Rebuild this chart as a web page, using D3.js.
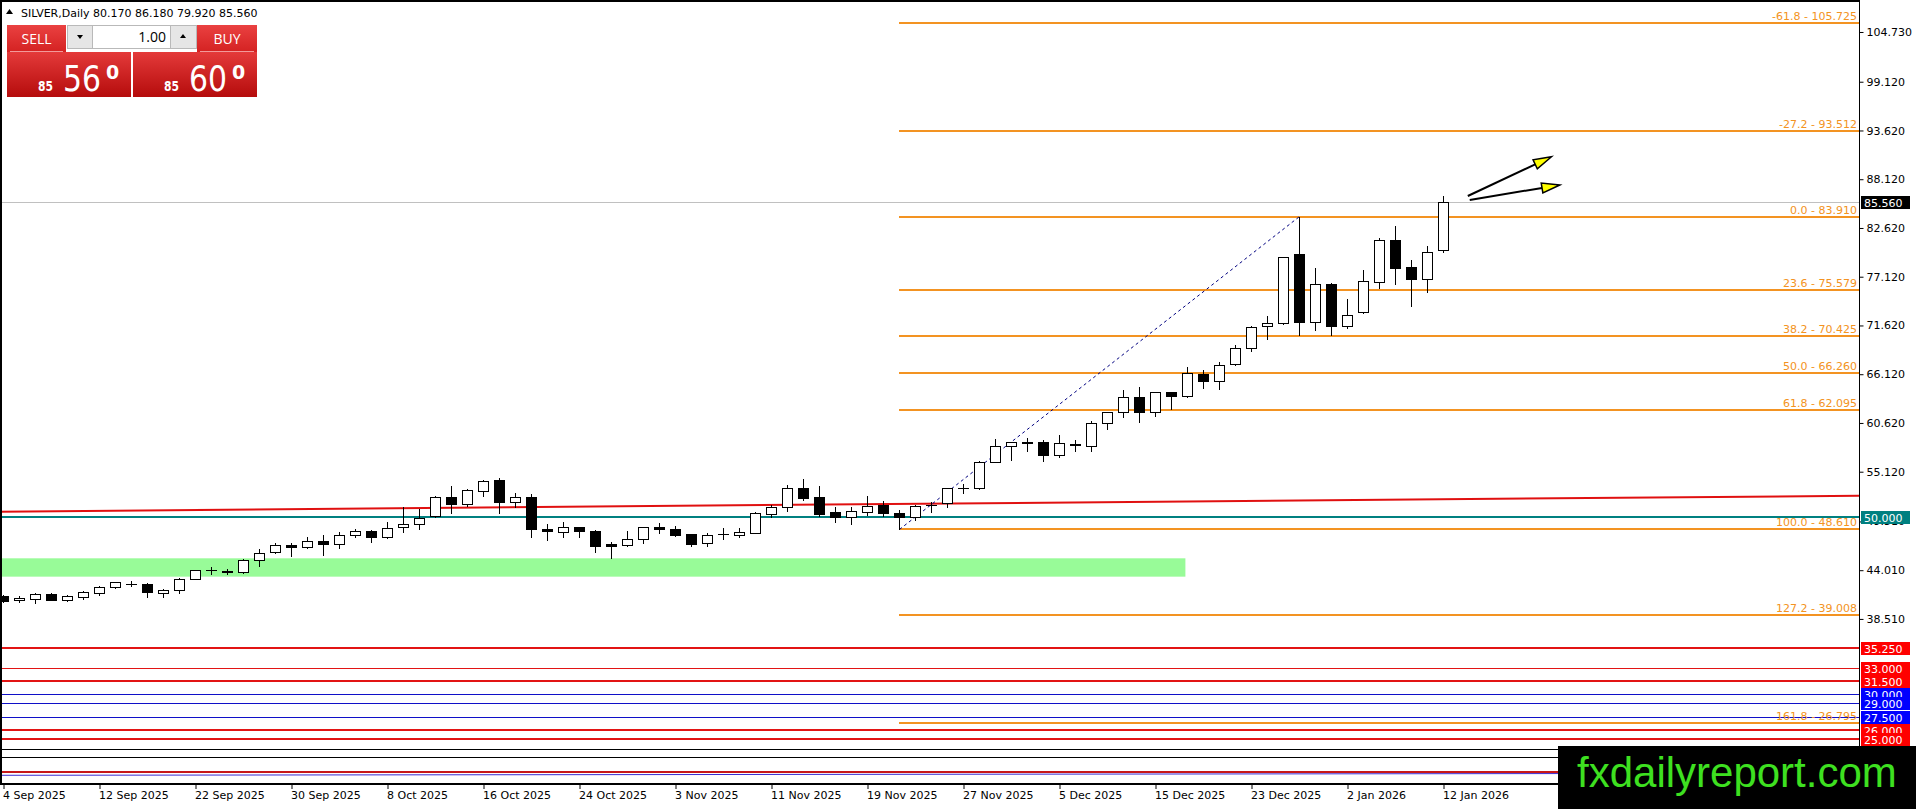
<!DOCTYPE html>
<html>
<head>
<meta charset="utf-8">
<script src="https://cdn.jsdelivr.net/npm/d3@7/dist/d3.min.js"></script>
<style>
	html, body { margin: 0; padding: 0; background: #fff; overflow: hidden; }
	svg { display: block; }
	text { font-family: "DejaVu Sans", Tahoma, sans-serif; font-size: 11px; }
</style>
</head>
<body>
<svg id="chart" width="1916" height="809"></svg>
<script>
// ---- data ----
const symbol = 'SILVER,Daily'
const dateLabels = ['4 Sep 2025', '12 Sep 2025', '22 Sep 2025', '30 Sep 2025', '8 Oct 2025', '16 Oct 2025',
	'24 Oct 2025', '3 Nov 2025', '11 Nov 2025', '19 Nov 2025', '27 Nov 2025', '5 Dec 2025',
	'15 Dec 2025', '23 Dec 2025', '2 Jan 2026', '12 Jan 2026']

const opens = [41.14, 40.62, 40.80, 41.29, 40.69, 41.03, 41.41, 42.08, 42.50, 42.42,
	41.48, 41.74, 43.02, 44.00, 43.96, 43.77, 45.13, 46.03, 46.86, 46.63,
	47.35, 46.93, 47.95, 48.40, 47.72, 48.85, 49.19, 50.13, 52.24, 51.48,
	52.99, 54.19, 51.75, 52.27, 48.66, 48.36, 48.89, 48.44, 46.97, 46.89,
	47.50, 48.89, 48.62, 48.10, 47.05, 48.06, 47.95, 48.25, 50.39, 51.11,
	53.25, 52.27, 50.54, 50.05, 50.62, 51.33, 50.51, 50.05, 51.33, 51.55,
	53.24, 53.32, 56.25, 57.98, 58.40, 58.43, 57.04, 58.13, 58.06, 60.58,
	61.82, 63.51, 61.82, 64.07, 63.70, 66.14, 65.39, 67.23, 69.04, 71.56,
	71.86, 79.68, 72.05, 76.26, 71.60, 73.18, 76.56, 81.26, 78.18, 76.90,
	80.17]
const highs = [41.22, 41.10, 41.48, 41.41, 41.18, 41.71, 42.27, 42.72, 42.80, 42.53,
	41.89, 43.10, 44.04, 44.41, 44.19, 45.24, 46.44, 47.12, 47.12, 47.76,
	47.95, 48.33, 48.63, 48.55, 49.45, 51.11, 50.88, 52.39, 53.51, 53.18,
	54.19, 54.38, 52.72, 52.61, 49.23, 49.45, 48.93, 48.55, 47.20, 48.44,
	48.88, 49.30, 49.00, 48.14, 48.17, 48.74, 48.78, 50.62, 51.37, 53.63,
	54.30, 53.51, 51.18, 51.11, 52.39, 51.82, 50.81, 51.37, 51.75, 53.30,
	53.69, 56.37, 58.81, 58.51, 58.92, 58.70, 59.26, 58.70, 60.84, 61.89,
	64.34, 64.64, 64.10, 64.11, 66.89, 66.59, 67.53, 69.41, 71.52, 72.69,
	79.35, 83.91, 78.10, 76.37, 74.64, 77.88, 81.45, 82.84, 79.00, 80.58,
	86.18]
const lows = [40.46, 40.46, 40.35, 40.65, 40.58, 40.80, 41.26, 41.97, 42.20, 41.03,
	41.03, 41.48, 42.98, 43.55, 43.55, 43.66, 44.53, 45.92, 45.65, 46.48,
	45.77, 46.56, 47.80, 47.23, 47.61, 48.36, 48.66, 50.05, 50.43, 51.30,
	52.42, 50.51, 51.11, 47.80, 47.42, 47.80, 47.72, 46.03, 45.43, 46.74,
	47.12, 48.25, 47.91, 46.74, 46.74, 47.57, 47.80, 48.22, 50.05, 50.73,
	51.93, 50.13, 49.49, 49.23, 50.24, 50.17, 48.61, 49.68, 50.62, 51.18,
	52.68, 53.21, 56.18, 56.44, 57.46, 56.37, 56.82, 57.46, 57.46, 59.98,
	61.33, 60.76, 61.40, 62.23, 63.59, 64.60, 64.41, 67.16, 68.78, 70.13,
	71.80, 70.54, 71.11, 70.54, 71.30, 72.99, 75.88, 76.30, 73.81, 75.43,
	79.92]
const closes = [40.58, 40.92, 41.29, 40.69, 41.10, 41.52, 42.08, 42.65, 42.42, 41.59,
	41.74, 42.98, 44.00, 44.02, 43.77, 45.13, 45.92, 46.82, 46.60, 47.31,
	46.97, 47.95, 48.40, 47.72, 48.81, 49.23, 49.94, 52.24, 51.45, 53.03,
	54.12, 51.75, 52.23, 48.62, 48.40, 48.93, 48.47, 46.74, 46.78, 47.50,
	48.85, 48.62, 48.02, 47.01, 47.95, 48.10, 48.29, 50.43, 51.11, 53.25,
	52.20, 50.35, 50.05, 50.69, 51.29, 50.51, 50.05, 51.29, 51.41, 53.24,
	53.28, 56.25, 58.02, 58.43, 58.43, 57.04, 58.32, 58.21, 60.58, 61.82,
	63.51, 61.89, 64.07, 63.70, 66.22, 65.39, 67.12, 69.04, 71.41, 71.86,
	79.30, 72.05, 76.26, 71.60, 72.76, 76.63, 81.26, 78.14, 76.90, 79.91,
	85.56]

const priceTicks = [104.73, 99.12, 93.62, 88.12, 82.62, 77.12, 71.62, 66.12, 60.62, 55.12, 49.51, 44.01, 38.51]

// fibonacci tool: anchored on bar 56 low and bar 81 high
const fibBars = [56, 81]
const fibPrices = [48.61, 83.91]
const fibRatios = [-61.8, -27.2, 0, 23.6, 38.2, 50, 61.8, 100, 127.2, 161.8]

// horizontal levels
const pivotLevel = 50.0
const redLevels = [35.25, 31.5, 26.0, 25.0]
const redThinLevels = [33.0]
const blueLevels = [30.0, 29.0, 27.5]
const blackLevels = [23.81, 22.91]
const lowRedLevel = 21.28

// trendlines as [bar, price] pairs
const redTrend = [[0, 50.62], [90, 52.01]]
const blueTrend = [[0, 20.87], [96, 21.06]]

// green zone [fromBar, toBar, lowPrice, highPrice]
const zone = [-3, 73.9, 43.28, 45.35]

// arrows [fromBar, fromPrice, toBar, toPrice]
const arrows = [[91.55, 86.23, 96.78, 90.66], [91.67, 85.78, 97.3, 87.47]]

const bidPrice = 85.560
const askPrice = 85.600
const lotSize = '1.00'

// ---- layout ----
const W = 1916, H = 809
const plotRight = 1859, plotBottom = 783

const svg = d3.select('#chart')

const x = d3.scaleLinear().domain([0, 90]).range([3, 1443])
const y = d3.scaleLinear().domain([20, 108.34]).range([plotBottom, 0])

const cx = i => Math.round(x(i))
const crisp = v => Math.round(v) + 0.5

svg.append('defs').append('clipPath').attr('id', 'plotClip')
	.append('rect').attr('x', 0).attr('y', 0).attr('width', plotRight).attr('height', plotBottom)

const plot = svg.append('g').attr('clip-path', 'url(#plotClip)')

// green zone
plot.append('rect')
	.attr('x', x(zone[0])).attr('width', x(zone[1]) - x(zone[0]))
	.attr('y', y(zone[3])).attr('height', y(zone[2]) - y(zone[3]))
	.attr('fill', '#98fb98')

function hline(price, color, width, x0 = 0) {
	const yy = width % 2 ? crisp(y(price)) : Math.round(y(price))
	plot.append('line')
		.attr('x1', x0).attr('x2', plotRight)
		.attr('y1', yy).attr('y2', yy)
		.attr('stroke', color).attr('stroke-width', width)
}

function trend(pts, color, width) {
	const [[b0, p0], [b1, p1]] = pts
	const slope = (p1 - p0) / (b1 - b0)
	const bL = x.invert(0), bR = x.invert(plotRight)
	plot.append('line')
		.attr('x1', 0).attr('y1', y(p0 + slope * (bL - b0)))
		.attr('x2', plotRight).attr('y2', y(p0 + slope * (bR - b0)))
		.attr('stroke', color).attr('stroke-width', width)
}

// current price line
hline(closes[closes.length - 1], '#c0c0c0', 1)

// levels
redLevels.forEach(p => hline(p, '#e21414', 2))
redThinLevels.forEach(p => hline(p, '#e21414', 1))
blueLevels.forEach(p => hline(p, '#1010c8', 1))
blackLevels.forEach(p => hline(p, '#000', 1))
hline(lowRedLevel, '#c81818', 2)
hline(pivotLevel, '#008080', 2)

trend(redTrend, '#e01010', 2)
trend(blueTrend, '#3a2ad0', 1)

// fibonacci
const fibRange = fibPrices[1] - fibPrices[0]
const fibLevels = fibRatios.map(r => ({ r, price: fibPrices[1] - r / 100 * fibRange }))
const fibX0 = cx(fibBars[0])

fibLevels.forEach(d => {
	hline(d.price, '#f39322', 2, fibX0)
	plot.append('text')
		.attr('x', plotRight - 2)
		.attr('y', Math.round(y(d.price)) - 3)
		.attr('text-anchor', 'end')
		.attr('fill', '#f39322')
		.text(`${d.r.toFixed(1)} - ${d.price.toFixed(3)}`)
})

plot.append('line')
	.attr('x1', fibX0 + 0.5).attr('y1', y(fibPrices[0]))
	.attr('x2', cx(fibBars[1]) + 0.5).attr('y2', y(fibPrices[1]))
	.attr('stroke', '#000080').attr('stroke-width', 1)
	.attr('stroke-dasharray', '3,3')

// candles
const bars = opens.map((o, i) => ({ i, o, h: highs[i], l: lows[i], c: closes[i] }))

const candle = plot.append('g').selectAll('g')
	.data(bars)
	.enter()
	.append('g')

candle.append('line')
	.attr('x1', d => cx(d.i) + 0.5).attr('x2', d => cx(d.i) + 0.5)
	.attr('y1', d => Math.round(y(d.h))).attr('y2', d => Math.round(y(d.l)) + 1)
	.attr('stroke', '#000').attr('stroke-width', 1)

candle.each(function (d) {
	const g = d3.select(this)
	const top = Math.round(y(Math.max(d.o, d.c)))
	const bot = Math.round(y(Math.min(d.o, d.c)))
	if (bot - top < 1) {
		g.append('line')
			.attr('x1', cx(d.i) - 5).attr('x2', cx(d.i) + 6)
			.attr('y1', top + 0.5).attr('y2', top + 0.5)
			.attr('stroke', '#000')
	} else {
		g.append('rect')
			.attr('x', cx(d.i) - 4.5).attr('width', 10)
			.attr('y', top + 0.5).attr('height', bot - top)
			.attr('fill', d.c >= d.o ? '#fff' : '#000')
			.attr('stroke', '#000').attr('stroke-width', 1)
	}
})

// arrows
arrows.forEach(([b0, p0, b1, p1]) => {
	const x0 = x(b0), y0 = y(p0), x1 = x(b1), y1 = y(p1)
	const ang = Math.atan2(y1 - y0, x1 - x0)
	const len = 18, half = 5
	const bx = x1 - len * Math.cos(ang), by = y1 - len * Math.sin(ang)
	svg.append('line')
		.attr('x1', x0).attr('y1', y0).attr('x2', bx).attr('y2', by)
		.attr('stroke', '#000').attr('stroke-width', 2)
	const pts = [
		[x1, y1],
		[bx - half * Math.sin(ang), by + half * Math.cos(ang)],
		[bx + half * Math.sin(ang), by - half * Math.cos(ang)]
	]
	svg.append('path')
		.attr('d', d3.line()(pts) + 'Z')
		.attr('fill', '#ffff00').attr('stroke', '#000').attr('stroke-width', 1.5)
		.attr('stroke-linejoin', 'miter')
})

// chart frame
svg.append('line').attr('x1', 0).attr('x2', plotRight).attr('y1', 1).attr('y2', 1)
	.attr('stroke', '#000').attr('stroke-width', 2)
svg.append('line').attr('x1', 1).attr('x2', 1).attr('y1', 0).attr('y2', plotBottom)
	.attr('stroke', '#000').attr('stroke-width', 2)

// price axis
const yAxis = svg.append('g')
	.attr('transform', `translate(${plotRight + 0.5},0)`)
	.call(d3.axisRight(y).tickValues(priceTicks).tickSize(4).tickSizeOuter(0).tickFormat(d3.format('.3f')))
yAxis.select('.domain').attr('d', `M0,0V${plotBottom + 1}`)
yAxis.selectAll('text')
	.attr('x', 7)
	.attr('fill', '#000')
	.style('font-family', '"DejaVu Sans", Tahoma, sans-serif')
	.style('font-size', '11px')

// time axis
svg.append('line')
	.attr('x1', 0).attr('x2', plotRight + 1)
	.attr('y1', plotBottom + 1).attr('y2', plotBottom + 1)
	.attr('stroke', '#000').attr('stroke-width', 2)

const xAxis = svg.append('g')
	.attr('transform', `translate(0.5,${plotBottom + 1})`)
	.call(d3.axisBottom(x).tickValues(d3.range(0, 91, 6)).tickSize(5).tickSizeOuter(0)
		.tickFormat((d, i) => dateLabels[i]))
xAxis.select('.domain').remove()
xAxis.selectAll('text')
	.attr('text-anchor', 'start')
	.attr('x', -1)
	.attr('y', 7)
	.attr('fill', '#000')
	.style('font-family', '"DejaVu Sans", Tahoma, sans-serif')
	.style('font-size', '11px')

// price labels on the axis
const axisTags = [
	{ p: closes[closes.length - 1], bg: '#000' },
	{ p: pivotLevel, bg: '#008080' },
	...redLevels.concat(redThinLevels).map(p => ({ p, bg: '#ff0000' })),
	...blueLevels.map(p => ({ p, bg: '#0000ff' }))
].sort((a, b) => b.p - a.p)

const tags = svg.append('g')
axisTags.forEach(t => {
	const yy = Math.round(y(t.p))
	tags.append('rect')
		.attr('x', plotRight + 2).attr('y', yy - 6)
		.attr('width', 49).attr('height', 13)
		.attr('fill', t.bg)
	tags.append('text')
		.attr('x', plotRight + 5).attr('y', yy + 4.5)
		.attr('fill', '#fff')
		.text(t.p.toFixed(3))
})

// header
svg.append('path').attr('d', 'M6,14L9.5,9L13,14Z').attr('fill', '#000')
svg.append('text')
	.attr('x', 21).attr('y', 17)
	.attr('fill', '#000')
	.text(`${symbol}  ${[opens, highs, lows, closes].map(a => a[a.length - 1].toFixed(3)).join(' ')}`)

// one-click trading panel
const defs = svg.select('defs')
const grad = defs.append('linearGradient').attr('id', 'redGrad')
	.attr('x1', 0).attr('y1', 0).attr('x2', 0).attr('y2', 1)
grad.append('stop').attr('offset', 0).attr('stop-color', '#e43a3a')
grad.append('stop').attr('offset', 1).attr('stop-color', '#b50c0c')
const btnGrad = defs.append('linearGradient').attr('id', 'btnGrad')
	.attr('x1', 0).attr('y1', 0).attr('x2', 0).attr('y2', 1)
btnGrad.append('stop').attr('offset', 0).attr('stop-color', '#ea4141')
btnGrad.append('stop').attr('offset', 1).attr('stop-color', '#d42222')

const panel = svg.append('g')
const ui = '"Open Sans", "Noto Sans", sans-serif'

function priceBox(x0, w, value) {
	panel.append('rect').attr('x', x0).attr('y', 52).attr('width', w).attr('height', 45).attr('fill', 'url(#redGrad)')
	const s = value.toFixed(3)
	const [intPart, frac] = s.split('.')
	const g = panel.append('g').attr('fill', '#fff').style('font-family', ui)
	g.append('text').attr('x', x0 + 31).attr('y', 91)
		.attr('textLength', 15).attr('lengthAdjust', 'spacingAndGlyphs')
		.style('font-size', '14px').style('font-weight', 600).text(intPart)
	g.append('text').attr('x', x0 + 56).attr('y', 91)
		.attr('textLength', 38).attr('lengthAdjust', 'spacingAndGlyphs')
		.style('font-size', '36px').text(frac.slice(0, 2))
	g.append('text').attr('x', x0 + 99).attr('y', 79)
		.style('font-size', '19px').style('font-weight', 600).text(frac.slice(2))
}

function button(x0, w, label) {
	panel.append('rect').attr('x', x0).attr('y', 25).attr('width', w).attr('height', 27).attr('fill', 'url(#btnGrad)')
	panel.append('line').attr('x1', x0 + 3).attr('x2', x0 + w - 3).attr('y1', 51.5).attr('y2', 51.5)
		.attr('stroke', '#f29a9a').attr('stroke-width', 1)
	panel.append('text').attr('x', x0 + w / 2).attr('y', 44).attr('text-anchor', 'middle')
		.attr('fill', '#fff').style('font-family', ui).style('font-size', '14px').text(label)
}

priceBox(7, 124, bidPrice)
priceBox(133, 124, askPrice)
button(7, 59, 'SELL')
button(197, 60, 'BUY')

panel.append('rect').attr('x', 67.5).attr('y', 25.5).attr('width', 129).attr('height', 23)
	.attr('fill', '#fff').attr('stroke', '#b9b9b9')
panel.append('rect').attr('x', 67.5).attr('y', 25.5).attr('width', 25).attr('height', 23)
	.attr('fill', '#e6e6e6').attr('stroke', '#b9b9b9')
panel.append('rect').attr('x', 170.5).attr('y', 25.5).attr('width', 26).attr('height', 23)
	.attr('fill', '#e6e6e6').attr('stroke', '#b9b9b9')
panel.append('path').attr('d', 'M77,35L83,35L80,39Z').attr('fill', '#000')
panel.append('path').attr('d', 'M180,38L186,38L183,34Z').attr('fill', '#000')
panel.append('text').attr('x', 166).attr('y', 42).attr('text-anchor', 'end')
	.attr('fill', '#000').style('font-family', ui).style('font-size', '14px').text(lotSize)

// watermark
svg.append('rect').attr('x', 1558).attr('y', 746).attr('width', W - 1558).attr('height', H - 746).attr('fill', '#000')
svg.append('text')
	.attr('x', 1577).attr('y', 787)
	.attr('fill', '#3ee020')
	.style('font-family', '"Liberation Sans", Arial, sans-serif')
	.style('font-size', '42px')
	.text('fxdailyreport.com')
</script>
</body>
</html>
